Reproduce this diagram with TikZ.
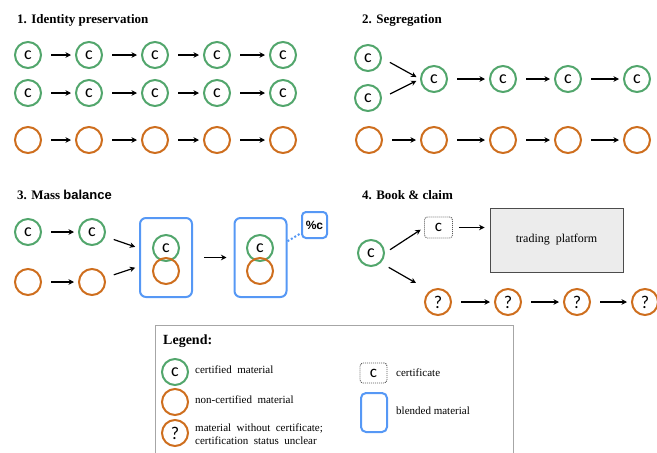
\documentclass[tikz,border=0pt]{standalone}
\usepackage{fontspec}
\setmainfont{Liberation Serif}
\newfontfamily\calfont{Carlito}
\newfontfamily\arialfont{Liberation Sans}
\usetikzlibrary{arrows.meta, calc}

\definecolor{certgreen}{RGB}{82,166,108}
\definecolor{plainorange}{RGB}{206,110,30}
\definecolor{blendblue}{RGB}{86,152,245}
\definecolor{platgray}{RGB}{236,236,236}

\tikzset{
    cert/.style={circle, draw=certgreen, line width=2pt, minimum size=26pt, inner sep=0pt,
        font=\calfont\fontsize{18}{18}\selectfont},
    plain/.style={circle, draw=plainorange, line width=2pt, minimum size=26pt, inner sep=0pt,
        font=\calfont\fontsize{18}{18}\selectfont},
    blend/.style={draw=blendblue, line width=2pt, rounded corners=6pt, minimum width=52pt, minimum height=79pt},
    paper/.style={draw=black!65, dashed, dash pattern=on 1pt off 1pt, line width=0.9pt, rounded corners=3pt,
        minimum width=28pt, minimum height=21pt, inner sep=0pt, font=\calfont\fontsize{17}{17}\selectfont},
    flow/.style={-{Stealth[length=5.5pt, width=5.5pt]}, line width=1.2pt, shorten <=9pt, shorten >=4pt},
    heading/.style={anchor=base west, inner sep=0pt, font=\bfseries\fontsize{13}{15}\selectfont},
    note/.style={anchor=west, inner sep=0pt, font=\fontsize{11}{13}\selectfont, align=left}
}

\begin{document}
\begin{tikzpicture}[x=1pt, y=-1pt]
            \useasboundingbox (0,0) rectangle (657,453);
            % 1. identity preservation
            \node[heading] (t1) at (17,23) {1. Identity preservation};
            \foreach \i/\x in {1/28, 2/89, 3/155, 4/217, 5/283} {
                \node[cert] (ipa\i) at (\x,55) {c};
                \node[cert] (ipb\i) at (\x,93) {c};
                \node[plain] (ipc\i) at (\x,140) {};
            }
            \foreach \i [evaluate=\i as \j using int(\i+1)] in {1,...,4} {
                \draw[flow] (ipa\i) -- (ipa\j);
                \draw[flow] (ipb\i) -- (ipb\j);
                \draw[flow] (ipc\i) -- (ipc\j);
            }
            % 2. segregation
            \node[heading] (t2) at (362,23) {2. Segregation};
            \node[cert] (sg01) at (368,58) {c};
            \node[cert] (sg02) at (368,98) {c};
            \foreach \i/\x in {1/434, 2/503, 3/568, 4/637} {
                \node[cert] (sga\i) at (\x,79) {c};
            }
            \foreach \i/\x in {0/369, 1/434, 2/503, 3/568, 4/637} {
                \node[plain] (sgb\i) at (\x,140) {};
            }
            \draw[flow] (sg01.east) -- (sga1.west);
            \draw[flow] (sg02.east) -- (sga1.west);
            \foreach \i [evaluate=\i as \j using int(\i+1)] in {1,...,3} {
                \draw[flow] (sga\i) -- (sga\j);
            }
            \foreach \i [evaluate=\i as \j using int(\i+1)] in {0,...,3} {
                \draw[flow] (sgb\i) -- (sgb\j);
            }
            % 3. mass balance
            \node[heading] (t3) at (17,199) {3. Mass \arialfont balance};
            \node[cert] (mb1) at (28,232) {c};
            \node[cert] (mb2) at (92,232) {c};
            \node[plain] (mb3) at (28,282) {};
            \node[plain] (mb4) at (92,282) {};
            \node[blend] (bx1) at (166,257.5) {};
            \node[blend] (bx2) at (260.5,257.5) {};
            \node[cert] (bx1c) at (166,248) {c};
            \node[plain] (bx1o) at (166,271) {};
            \node[cert] (bx2c) at (260,248) {c};
            \node[plain] (bx2o) at (260,271) {};
            \node[draw=blendblue, line width=2pt, rounded corners=4pt, minimum width=25pt, minimum height=26pt,
                inner sep=0pt, font=\arialfont\bfseries\fontsize{12}{12}\selectfont] (pc) at (314.5,225) {\%c};
            \draw[flow] (mb1) -- (mb2);
            \draw[flow] (mb3) -- (mb4);
            \draw[flow] (mb2) -- (bx1);
            \draw[flow] (mb4) -- (bx1);
            \draw[flow, shorten <=11pt, shorten >=7pt] (bx1) -- (bx2);
            \draw[blendblue, line width=2pt, dotted] (bx2) -- (pc);
            % 4. book and claim
            \node[heading] (t4) at (362,199) {4. Book \& claim};
            \node[cert] (bc) at (371,253) {c};
            \node[paper] (cb) at (438.5,227.5) {c};
            \node[draw=black!70, fill=platgray, line width=0.9pt, minimum width=133pt, minimum height=64pt,
                font=\fontsize{12}{14}\selectfont] (tp) at (556.5,240) {trading\ \ platform};
            \coordinate (bcend) at (416,283);
            \foreach \i/\x in {1/438, 2/508, 3/577, 4/645} {
                \node[plain] (bq\i) at (\x,302) {?};
            }
            \draw[flow, shorten <=6pt] (bc.east) -- (cb.west);
            \draw[flow, shorten >=0pt] (bc.south east) -- (bcend);
            \draw[flow, shorten <=6pt, shorten >=5pt] (cb.east) -- (cb.east -| tp.west);
            \foreach \i [evaluate=\i as \j using int(\i+1)] in {1,...,3} {
                \draw[flow] (bq\i) -- (bq\j);
            }
            % legend
            \draw[black!35, line width=0.8pt] (155,455) -- (155,325) -- (513,325) -- (513,455);
            \node[heading, font=\bfseries\fontsize{14}{16}\selectfont] (lgt) at (163,344) {Legend:};
            \node[cert] (lg1) at (175,372) {c};
            \node[plain] (lg2) at (175,402) {};
            \node[plain] (lg3) at (175,433) {?};
            \node[note] (lg1t) at (195,370) {certified\ \ material};
            \node[note] (lg2t) at (195,400) {non-certified\ \ material};
            \node[note] (lg3t) at (195,434) {material\ \ without\ \ certificate;\\certification\ \ status\ \ unclear};
            \node[paper, minimum width=27pt, minimum height=20pt] (lg4) at (373.5,373) {c};
            \node[blend, rounded corners=5pt, minimum width=26pt, minimum height=39pt] (lg5) at (374,412.5) {};
            \node[note] (lg4t) at (396,373) {certificate};
            \node[note] (lg5t) at (396,411) {blended\ material};
\end{tikzpicture}
\end{document}
